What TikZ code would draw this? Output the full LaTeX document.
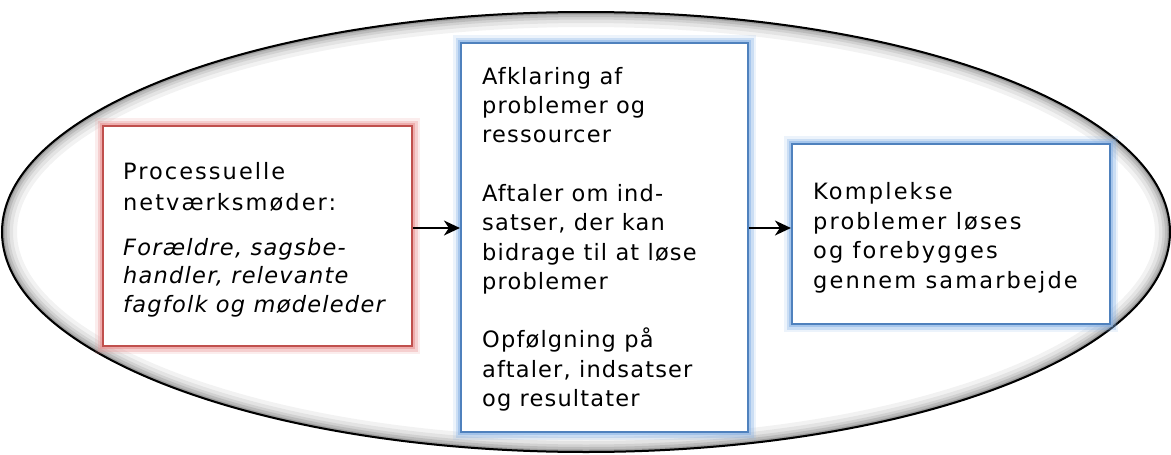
\documentclass[tikz,border=0pt]{standalone}
\usepackage{fontspec}
\setmainfont{DejaVu Sans}
\usetikzlibrary{arrows.meta}
\definecolor{redb}{RGB}{192,80,77}
\definecolor{redglow}{RGB}{232,140,140}
\definecolor{blueb}{RGB}{79,129,189}
\definecolor{blueglow}{RGB}{130,175,230}
\tikzset{
  glowbox/.style={draw=#1b, line width=2.2pt, fill=white, inner sep=0pt,
    preaction={draw=#1glow, line width=16pt, opacity=0.15},
    preaction={draw=#1glow, line width=11pt, opacity=0.3},
    preaction={draw=#1glow, line width=6pt, opacity=0.5}},
  txt/.style={anchor=base west, align=left, inner sep=0pt},
  arr/.style={line width=1.8pt, -{Stealth[length=16pt,width=15pt,inset=5pt]}},
}
\begin{document}
\begin{tikzpicture}[x=1pt,y=-1pt]
\useasboundingbox (0,0) rectangle (1171,455);
% ellipse
\coordinate (ec) at (586,232);
\fill[white] (ec) ellipse [x radius=584, y radius=220];
\begin{scope}
  \clip (ec) ellipse [x radius=584, y radius=220];
  \foreach \w/\o in {30/0.05, 22/0.06, 15/0.08, 10/0.1, 5/0.14, 2.5/0.18}
    \draw[line width=\w pt, black, opacity=\o] (ec) ellipse [x radius=584, y radius=220];
\end{scope}
\draw[line width=2pt] (ec) ellipse [x radius=584, y radius=220];
% boxes
\node[glowbox=red, minimum width=309pt, minimum height=220pt] (red) at (257.5,236) {};
\node[glowbox=blue, minimum width=287pt, minimum height=389pt] (mid) at (604.5,237.5) {};
\node[glowbox=blue, minimum width=318pt, minimum height=180pt] (right) at (951,234) {};
% texts (anchor base = baseline of the last line)
\node[txt, font=\fontsize{22.5}{31}\selectfont\addfontfeature{LetterSpace=9}] (redtitle) at (123,210)
  {Processuelle\\netværksmøder:};
\node[txt, font=\fontsize{22.5}{28.5}\selectfont\itshape\addfontfeature{LetterSpace=5.5}] (redsub) at (123,312)
  {Forældre, sagsbe-\\handler, relevante\\fagfolk og mødeleder};
\node[txt, font=\fontsize{22.5}{29.3}\selectfont\addfontfeature{LetterSpace=5.2}] (midtxt) at (482,406.5)
  {Afklaring af\\problemer og\\ressourcer\\[29.3pt]Aftaler om ind-\\satser, der kan\\bidrage til at løse\\problemer\\[29.3pt]Opfølgning på\\aftaler, indsatser\\og resultater};
\node[txt, font=\fontsize{22.5}{29.6}\selectfont\addfontfeature{LetterSpace=9.5}] (righttxt) at (813,288.3)
  {Komplekse\\problemer løses\\og forebygges\\gennem samarbejde};
% arrows
\draw[arr] ([yshift=8pt]red.east) -- ([yshift=8pt]red.east -| mid.west);
\draw[arr] ([yshift=9.5pt]mid.east) -- ([yshift=9.5pt]mid.east -| right.west);
\end{tikzpicture}
\end{document}
